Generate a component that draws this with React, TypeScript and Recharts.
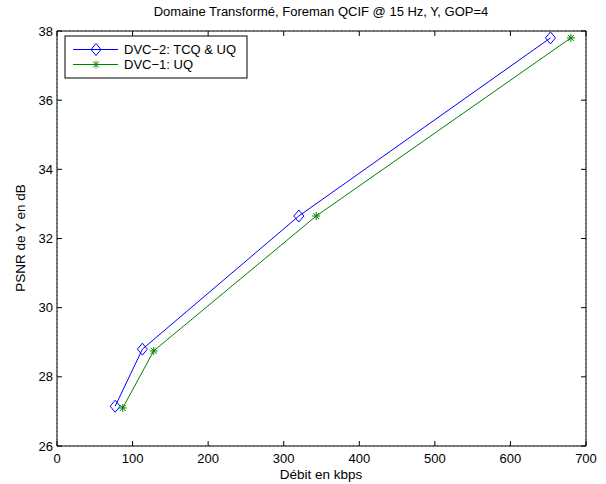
import { LineChart, Line, XAxis, YAxis, CartesianGrid } from 'recharts';

const tcqRate = [77, 113, 320, 653];
const tcqPsnr = [27.15, 28.8, 32.65, 37.8];
const uqRate = [87, 128, 343, 680];
const uqPsnr = [27.1, 28.75, 32.65, 37.8];

const xTicks = [0, 100, 200, 300, 400, 500, 600, 700];
const yTicks = [26, 28, 30, 32, 34, 36, 38];

const title = 'Domaine Transformé, Foreman QCIF @ 15 Hz, Y, GOP=4';
const xLabel = 'Débit en kbps';
const yLabel = 'PSNR de Y en dB';
const tcqName = 'DVC−2: TCQ & UQ';
const uqName = 'DVC−1: UQ';

const tcqData = tcqRate.map((r, i) => ({ rate: r, psnr: tcqPsnr[i] }));
const uqData = uqRate.map((r, i) => ({ rate: r, psnr: uqPsnr[i] }));

const FONT = '"Liberation Sans", Arial, Helvetica, sans-serif';
const BLUE = '#0000ff';
const GREEN = '#008000';

const Diamond = ({ cx, cy }: any) => (
    <polygon
        points={`${cx},${cy - 6} ${cx + 5},${cy} ${cx},${cy + 6} ${cx - 5},${cy}`}
        fill="none"
        stroke={BLUE}
        strokeWidth={1}
    />
);

const Star = ({ cx, cy }: any) => (
    <g stroke={GREEN} strokeWidth={1}>
        <line x1={cx - 4} x2={cx + 4} y1={cy} y2={cy} />
        <line x1={cx} x2={cx} y1={cy - 4} y2={cy + 4} />
        <line x1={cx - 3} x2={cx + 3} y1={cy - 3} y2={cy + 3} />
        <line x1={cx - 3} x2={cx + 3} y1={cy + 3} y2={cy - 3} />
    </g>
);

const BottomTick = ({ x, y, payload }: any) => (
    <g>
        <line x1={x} x2={x} y1={y} y2={y - 5} stroke="#000" />
        <text x={x} y={y + 17} textAnchor="middle" fontSize={13} fontFamily={FONT} fill="#000">
            {payload.value}
        </text>
    </g>
);

const TopTick = ({ x, y }: any) => <line x1={x} x2={x} y1={y} y2={y + 5} stroke="#000" />;

const LeftTick = ({ x, y, payload }: any) => (
    <g>
        <line x1={x} x2={x + 5} y1={y} y2={y} stroke="#000" />
        <text x={x - 4} y={y + 4.5} textAnchor="end" fontSize={13} fontFamily={FONT} fill="#000">
            {payload.value}
        </text>
    </g>
);

const RightTick = ({ x, y }: any) => <line x1={x} x2={x - 5} y1={y} y2={y} stroke="#000" />;

export default function App() {
    return (
        <div style={{ position: 'absolute', left: 0, top: 0, background: '#fff' }}>
            <LineChart width={606} height={484} margin={{ top: 30, right: 19, bottom: 0, left: 0 }}>
                <CartesianGrid stroke="#777" strokeDasharray="1 3" />
                <XAxis
                    xAxisId="b"
                    dataKey="rate"
                    type="number"
                    domain={[0, 700]}
                    ticks={xTicks}
                    height={38}
                    tickSize={0}
                    tickMargin={0}
                    tickLine={false}
                    axisLine={{ stroke: '#000' }}
                    tick={<BottomTick />}
                    interval={0}
                />
                <XAxis
                    xAxisId="t"
                    dataKey="rate"
                    orientation="top"
                    type="number"
                    domain={[0, 700]}
                    ticks={xTicks}
                    height={1}
                    tickSize={0}
                    tickMargin={0}
                    tickLine={false}
                    axisLine={{ stroke: '#000' }}
                    tick={<TopTick />}
                    interval={0}
                />
                <YAxis
                    yAxisId="l"
                    type="number"
                    domain={[26, 38]}
                    ticks={yTicks}
                    width={57}
                    tickSize={0}
                    tickMargin={0}
                    tickLine={false}
                    axisLine={{ stroke: '#000' }}
                    tick={<LeftTick />}
                    interval={0}
                />
                <YAxis
                    yAxisId="r"
                    orientation="right"
                    type="number"
                    domain={[26, 38]}
                    ticks={yTicks}
                    width={1}
                    tickSize={0}
                    tickMargin={0}
                    tickLine={false}
                    axisLine={{ stroke: '#000' }}
                    tick={<RightTick />}
                    interval={0}
                />
                <Line
                    xAxisId="t"
                    yAxisId="r"
                    data={tcqData}
                    dataKey="psnr"
                    stroke="none"
                    dot={false}
                    activeDot={false}
                    legendType="none"
                    isAnimationActive={false}
                />
                <Line
                    xAxisId="b"
                    yAxisId="l"
                    data={tcqData}
                    dataKey="psnr"
                    stroke={BLUE}
                    strokeWidth={1}
                    dot={<Diamond />}
                    activeDot={false}
                    isAnimationActive={false}
                />
                <Line
                    xAxisId="b"
                    yAxisId="l"
                    data={uqData}
                    dataKey="psnr"
                    stroke={GREEN}
                    strokeWidth={1}
                    dot={<Star />}
                    activeDot={false}
                    isAnimationActive={false}
                />
                <text x={321} y={16} textAnchor="middle" fontSize={13} fontFamily={FONT} fill="#000">
                    {title}
                </text>
                <text x={321} y={479} textAnchor="middle" fontSize={13.5} fontFamily={FONT} fill="#000">
                    {xLabel}
                </text>
                <text
                    x={0}
                    y={0}
                    transform="translate(25,238) rotate(-90)"
                    textAnchor="middle"
                    fontSize={13.5}
                    fontFamily={FONT}
                    fill="#000"
                >
                    {yLabel}
                </text>
                <g>
                    <rect x={65} y={36} width={182} height={42} fill="#fff" stroke="#000" />
                    <line x1={73} x2={118} y1={49.5} y2={49.5} stroke={BLUE} />
                    <Diamond cx={96} cy={49.5} />
                    <text x={124} y={54} fontSize={13} fontFamily={FONT} fill="#000">
                        {tcqName}
                    </text>
                    <line x1={73} x2={118} y1={64.5} y2={64.5} stroke={GREEN} />
                    <Star cx={96} cy={64.5} />
                    <text x={124} y={69} fontSize={13} fontFamily={FONT} fill="#000">
                        {uqName}
                    </text>
                </g>
            </LineChart>
        </div>
    );
}
